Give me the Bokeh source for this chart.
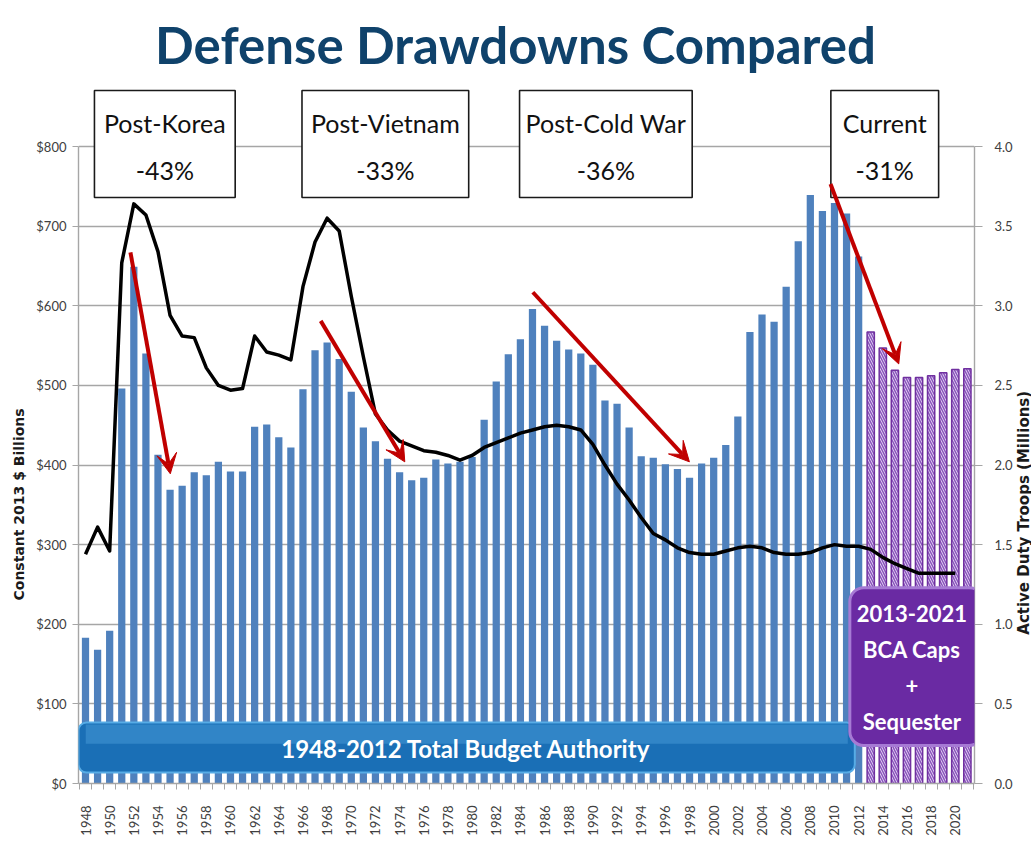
import math
from bokeh.plotting import figure
from bokeh.layouts import row
from bokeh.models import (Range1d, LinearAxis, FixedTicker, NumeralTickFormatter,
                          BoxAnnotation, Label, Arrow, VeeHead, ColumnDataSource, Title)
from bokeh.embed import file_html
from bokeh.resources import INLINE

# ---------------- data ----------------
years = list(range(1948, 2022))
budget = [183, 168, 192, 496, 649, 540, 413, 369, 374, 391,
          387, 404, 392, 392, 448, 451, 435, 422, 495, 544,
          554, 533, 492, 447, 430, 408, 391, 381, 384, 407,
          402, 404, 410, 457, 505, 539, 558, 596, 575, 556,
          545, 540, 526, 481, 477, 447, 411, 409, 401, 395,
          384, 402, 409, 425, 461, 567, 589, 580, 624, 681,
          739, 719, 729, 716, 662, 567, 547, 519, 510, 510,
          512, 516, 520, 521]
last_actual_year = 2012

troop_years = list(range(1948, 2021))
troops = [1.44, 1.61, 1.46, 3.27, 3.64, 3.57, 3.34, 2.94, 2.81, 2.80,
          2.61, 2.50, 2.47, 2.48, 2.81, 2.71, 2.69, 2.66, 3.12, 3.40,
          3.55, 3.47, 3.06, 2.68, 2.32, 2.22, 2.15, 2.12, 2.09, 2.08,
          2.06, 2.03, 2.06, 2.11, 2.14, 2.17, 2.20, 2.22, 2.24, 2.25,
          2.24, 2.22, 2.13, 2.00, 1.88, 1.78, 1.67, 1.57, 1.53, 1.48,
          1.45, 1.44, 1.44, 1.46, 1.48, 1.49, 1.48, 1.45, 1.44, 1.44,
          1.45, 1.48, 1.50, 1.49, 1.49, 1.47, 1.42, 1.38, 1.35, 1.32,
          1.32, 1.32, 1.32]

budget_ticks = [0, 100, 200, 300, 400, 500, 600, 700, 800]
troop_ticks = [0.0, 0.5, 1.0, 1.5, 2.0, 2.5, 3.0, 3.5, 4.0]
year_label_ticks = list(range(1948, 2021, 2))

drawdowns = ["Post-Korea", "Post-Vietnam", "Post-Cold War", "Current"]
drawdown_pcts = ["-43%", "-33%", "-36%", "-31%"]

title_text = "Defense Drawdowns Compared"
left_label = "Constant 2013 $ Billions"
right_label = "Active Duty Troops (Millions)"
band_text = "1948-2012 Total Budget Authority"
bca_lines = ["2013-2021", "BCA Caps", "+", "Sequester"]

# ---------------- layout / styling ----------------
X0, X1 = 1947.42, 2021.59
Y_TOP = 983.4
TROOP_SCALE = 200.0  # $800 <-> 4.0 million

FONT = "Lato"
GRID = "#a6a6a6"
BLUE = "#4f81bd"
PURPLE = "#7030a0"
RED = "#c00000"

MAIN_W, SIDE_W, H = 1015, 16, 846
B_TOP, B_BOTTOM = 0, 63

p = figure(width=MAIN_W, height=H, output_backend="svg", toolbar_location=None,
           x_range=Range1d(X0, X1), y_range=Range1d(0, Y_TOP),
           min_border_left=78, min_border_right=39, min_border_top=B_TOP,
           min_border_bottom=B_BOTTOM, outline_line_color=None,
           background_fill_color="white", border_fill_color="white")
p.extra_y_ranges = {"troops": Range1d(0, Y_TOP / TROOP_SCALE)}

# grid
p.xgrid.visible = False
p.ygrid.ticker = FixedTicker(ticks=budget_ticks)
p.ygrid.grid_line_color = GRID
p.ygrid.grid_line_width = 1.4

# left axis
ya = p.yaxis[0]
ya.ticker = FixedTicker(ticks=budget_ticks)
ya.formatter = NumeralTickFormatter(format="$0")
ya.bounds = (0, 800)
ya.axis_line_color = GRID
ya.axis_line_width = 1.4
ya.major_tick_line_color = GRID
ya.major_tick_out = 6
ya.major_tick_in = 0
ya.minor_tick_line_color = None
ya.major_label_text_font = FONT
ya.major_label_text_font_size = "13px"
ya.major_label_text_color = "#404040"
ya.major_label_standoff = 6

# left axis title, placed along the $0-$800 span
p.add_layout(Title(text=left_label, align="left", offset=183, text_font="DejaVu Sans",
                   text_font_style="bold", text_font_size="14px",
                   text_color="#1a1a1a", standoff=14), "left")

# right axis
ra = LinearAxis(y_range_name="troops", ticker=FixedTicker(ticks=troop_ticks),
                formatter=NumeralTickFormatter(format="0.0"), bounds=(0, 4))
ra.axis_line_color = GRID
ra.axis_line_width = 1.4
ra.major_tick_line_color = GRID
ra.major_tick_out = 8
ra.major_tick_in = 0
ra.minor_tick_line_color = None
ra.major_label_text_font = FONT
ra.major_label_text_font_size = "13px"
ra.major_label_text_color = "#404040"
ra.major_label_standoff = 12
p.add_layout(ra, "right")

# bottom axis
xa = p.xaxis[0]
xa.ticker = FixedTicker(ticks=year_label_ticks,
                        minor_ticks=[y - 0.5 for y in years] + [years[-1] + 0.5])
xa.axis_line_color = GRID
xa.axis_line_width = 1.4
xa.major_tick_line_color = None
xa.major_tick_out = 0
xa.minor_tick_line_color = GRID
xa.minor_tick_out = 6
xa.minor_tick_in = 0
xa.major_label_orientation = math.pi / 2
xa.major_label_text_font = FONT
xa.major_label_text_font_size = "13px"
xa.major_label_text_color = "#404040"
xa.major_label_standoff = 16

# ---------------- bars ----------------
hist_src = ColumnDataSource(dict(
    x=[y for y in years if y <= last_actual_year],
    top=[b for y, b in zip(years, budget) if y <= last_actual_year]))
bca_src = ColumnDataSource(dict(
    x=[y for y in years if y > last_actual_year],
    top=[b for y, b in zip(years, budget) if y > last_actual_year]))

p.vbar(x="x", top="top", width=0.6, source=hist_src,
       fill_color=BLUE, line_color=None)
p.vbar(x="x", top="top", width=0.6, source=bca_src,
       fill_color="#e8dcf4", line_color=PURPLE, line_width=1.5,
       hatch_pattern="\\", hatch_color="#8a55bd", hatch_scale=5, hatch_weight=1.5)

# troops line (right axis)
p.line(troop_years, troops, y_range_name="troops", line_color="black",
       line_width=3.5, line_join="round")

# ---------------- annotations ----------------
# title
p.add_layout(Label(x=1983.6, y=928, text=title_text, text_align="center",
                   text_baseline="alphabetic", text_color="#0f426b", text_font=FONT,
                   text_font_style="bold", text_font_size="51px"))

# bottom band
p.add_layout(BoxAnnotation(left=X0, right=2011.68, bottom=13.8, top=76.6,
                           fill_color="#1a6fb6", fill_alpha=1,
                           line_color="#57ace6", line_alpha=1, line_width=2,
                           border_radius=8))
p.add_layout(BoxAnnotation(left=X0 + 0.6, right=2011.1, bottom=50, top=74,
                           fill_color="#4d9fdc", fill_alpha=0.45, line_color=None))
p.add_layout(Label(x=1979.5, y=44, text=band_text, text_align="center",
                   text_baseline="middle", text_color="white", text_font=FONT,
                   text_font_style="bold", text_font_size="24px"))

# purple BCA box
p.add_layout(BoxAnnotation(left=2011.27, right=2022.3, bottom=47.7, top=246,
                           fill_color="#6a2aa3", fill_alpha=1,
                           line_color="#a67ad4", line_alpha=1, line_width=3,
                           border_radius=14))
for i, t in enumerate(bca_lines):
    p.add_layout(Label(x=2016.4, y=214 - i * 45.5, text=t, text_align="center",
                       text_baseline="middle", text_color="white", text_font=FONT,
                       text_font_style="bold", text_font_size="22px"))

# drawdown boxes
box_lr = [(1948.74, 1960.39), (1965.92, 1979.72), (1983.93, 1998.22), (2009.70, 2018.62)]
for (l, r), name, pct in zip(box_lr, drawdowns, drawdown_pcts):
    p.add_layout(BoxAnnotation(left=l, right=r, bottom=736.0, top=870.3,
                               fill_color="white", fill_alpha=1,
                               line_color="#1a1a1a", line_alpha=1, line_width=1.6))
    p.add_layout(Label(x=(l + r) / 2, y=830, text=name, text_align="center",
                       text_baseline="middle", text_color="#111111",
                       text_font=FONT, text_font_size="25px"))
    p.add_layout(Label(x=(l + r) / 2, y=770, text=pct, text_align="center",
                       text_baseline="middle", text_color="#111111",
                       text_font=FONT, text_font_size="25px"))

# red arrows
arrows = [((1951.72, 667), (1955.02, 389)),
          ((1967.47, 581), (1974.43, 404)),
          ((1985.03, 617), (1997.99, 404)),
          ((2009.67, 753), (2015.32, 527))]
for (xs, ys), (xe, ye) in arrows:
    p.add_layout(Arrow(x_start=xs, y_start=ys, x_end=xe, y_end=ye,
                       line_color=RED, line_width=4,
                       end=VeeHead(size=20, fill_color=RED, line_color=RED, line_width=1)))

# ---------------- right-hand strip holding the right axis title ----------------
side = figure(width=SIDE_W, height=H, output_backend="svg", toolbar_location=None,
              x_range=Range1d(0, SIDE_W), y_range=p.y_range,
              x_axis_location=None, y_axis_location=None,
              min_border_left=0, min_border_right=0,
              min_border_top=B_TOP, min_border_bottom=B_BOTTOM,
              outline_line_color=None,
              background_fill_color="white", border_fill_color="white")
side.xgrid.visible = False
side.ygrid.visible = False
side.add_layout(Label(x=SIDE_W / 2, y=340, text=right_label, angle=math.pi / 2,
                      text_align="center", text_baseline="middle", text_color="#1a1a1a",
                      text_font="DejaVu Sans", text_font_style="bold",
                      text_font_size="15px"))

layout = row(p, side, spacing=0)
open("out.html", "w").write(file_html(layout, INLINE))
